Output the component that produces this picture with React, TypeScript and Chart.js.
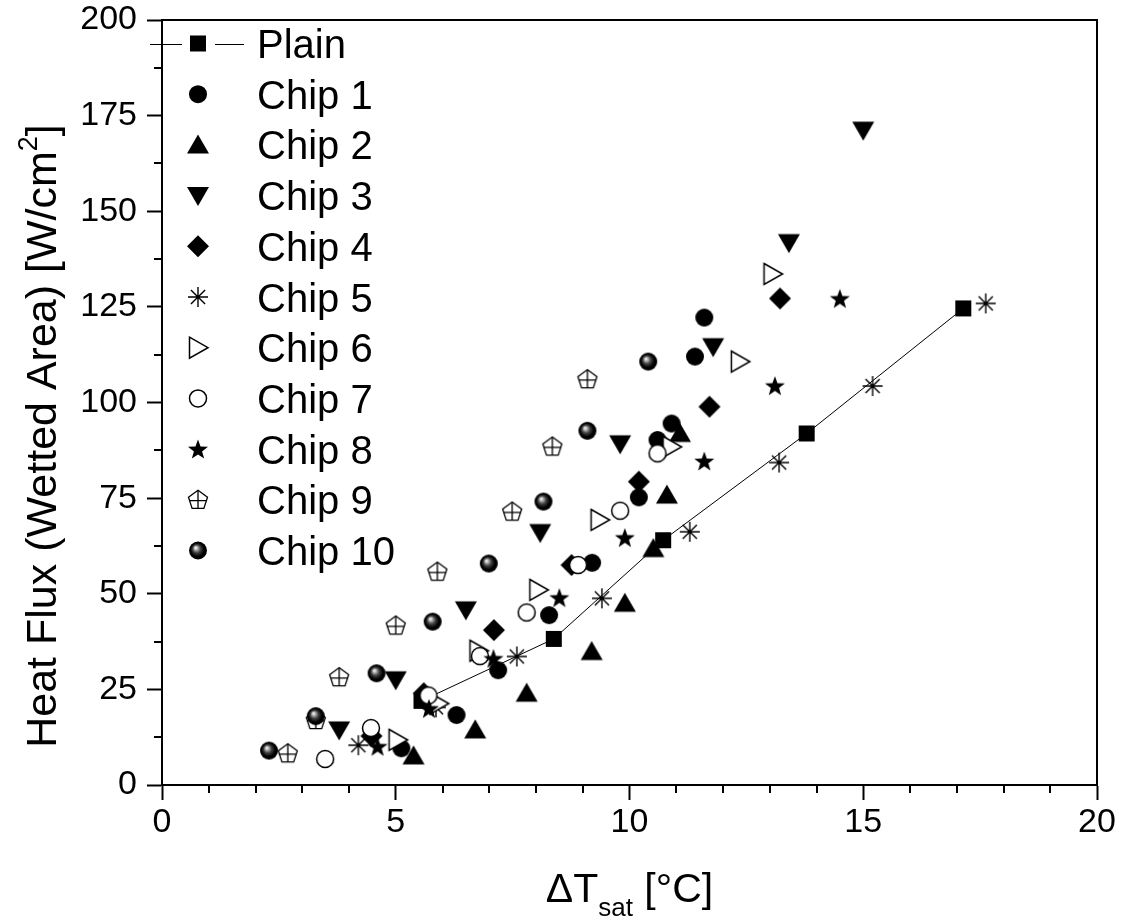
import React, { useEffect, useRef } from "react";
import { Chart, registerables } from "chart.js";

Chart.register(...registerables);

const FONT = '"Liberation Sans", Arial, Helvetica, sans-serif';

// ---- data ----
const seriesNames = ["Plain", "Chip 1", "Chip 2", "Chip 3", "Chip 4", "Chip 5", "Chip 6", "Chip 7", "Chip 8", "Chip 9", "Chip 10"];
const markerKinds = ["square", "circle", "triangle", "triangleDown", "diamond", "asterisk", "triangleRight", "circleOpen", "star", "pentagon", "sphere"];

const plainX = [5.55, 8.38, 10.72, 13.79, 17.14];
const plainY = [22, 38.2, 64, 91.9, 124.6];
const chip1X = [5.12, 6.3, 7.19, 8.28, 9.2, 10.2, 10.6, 10.9, 11.4, 11.6];
const chip1Y = [9.6, 18.3, 30, 44.4, 58.1, 75.2, 90.2, 94.5, 112, 122.2];
const chip2X = [5.38, 6.7, 7.8, 9.19, 9.9, 10.51, 10.8, 11.08];
const chip2Y = [7.6, 14.4, 24, 34.9, 47.5, 61.8, 75.8, 91.9];
const chip3X = [3.79, 5.0, 6.5, 8.09, 9.8, 11.79, 13.41, 15.0];
const chip3Y = [14.4, 27.5, 45.8, 66, 89.2, 114.6, 141.8, 171.2];
const chip4X = [4.48, 5.6, 7.1, 8.76, 10.2, 11.71, 13.22];
const chip4Y = [12.8, 24, 40.5, 57.5, 79.3, 98.9, 127.2];
const chip5X = [4.2, 5.86, 7.59, 9.41, 11.29, 13.2, 15.2, 17.62];
const chip5Y = [10.4, 20.3, 33.6, 48.8, 66.2, 84.3, 104.3, 125.9];
const chip6X = [5.04, 5.92, 6.77, 8.05, 9.36, 10.9, 12.36, 13.06];
const chip6Y = [11.8, 21.3, 35.1, 51, 69.3, 88.4, 110.7, 133.6];
const chip7X = [3.49, 4.47, 5.7, 6.8, 7.8, 8.9, 9.8, 10.6];
const chip7Y = [6.8, 14.9, 23.4, 33.7, 45.1, 57.5, 71.7, 86.7];
const chip8X = [4.61, 5.71, 7.09, 8.5, 9.9, 11.6, 13.11, 14.5];
const chip8Y = [10.1, 20, 33.1, 49, 64.7, 84.7, 104.4, 127.2];
const chip9X = [2.69, 3.29, 3.79, 5.0, 5.89, 7.49, 8.35, 9.1];
const chip9Y = [8.3, 17, 28.2, 41.7, 55.8, 71.5, 88.5, 106.1];
const chip10X = [2.29, 3.29, 4.59, 5.79, 6.99, 8.16, 9.1, 10.4];
const chip10Y = [9.0, 18.0, 29.2, 42.7, 57.9, 74.1, 92.6, 110.7];

const allX = [plainX, chip1X, chip2X, chip3X, chip4X, chip5X, chip6X, chip7X, chip8X, chip9X, chip10X];
const allY = [plainY, chip1Y, chip2Y, chip3Y, chip4Y, chip5Y, chip6Y, chip7Y, chip8Y, chip9Y, chip10Y];

const xMin = 0, xMax = 20, xMajor = 5, xMinor = 1;
const yMin = 0, yMax = 200, yMajor = 25, yMinor = 12.5;
const xTitleMain = "ΔT";
const xTitleSub = "sat";
const xTitleRest = " [°C]";
const yTitleMain = "Heat Flux (Wetted Area) [W/cm";
const yTitleSup = "2";
const yTitleEnd = "]";

// ---- markers ----
function drawMarker(ctx: CanvasRenderingContext2D, kind: string, x: number, y: number) {
  ctx.save();
  ctx.translate(x, y);
  ctx.fillStyle = "#000";
  ctx.strokeStyle = "#000";
  ctx.lineWidth = 1.5;
  ctx.lineJoin = "miter";
  ctx.beginPath();
  switch (kind) {
    case "square":
      ctx.fillRect(-8, -8, 16, 16);
      break;
    case "circle":
      ctx.arc(0, 0, 9, 0, Math.PI * 2);
      ctx.fill();
      break;
    case "triangle":
      ctx.moveTo(0, -10.5);
      ctx.lineTo(11, 8.5);
      ctx.lineTo(-11, 8.5);
      ctx.closePath();
      ctx.fill();
      break;
    case "triangleDown":
      ctx.moveTo(-11, -8.5);
      ctx.lineTo(11, -8.5);
      ctx.lineTo(0, 10.5);
      ctx.closePath();
      ctx.fill();
      break;
    case "diamond":
      ctx.moveTo(0, -11);
      ctx.lineTo(11, 0);
      ctx.lineTo(0, 11);
      ctx.lineTo(-11, 0);
      ctx.closePath();
      ctx.fill();
      break;
    case "asterisk": {
      ctx.lineWidth = 1.4;
      const r = 10;
      for (let k = 0; k < 4; k++) {
        const a = (k * Math.PI) / 4;
        ctx.moveTo(-r * Math.cos(a), -r * Math.sin(a));
        ctx.lineTo(r * Math.cos(a), r * Math.sin(a));
      }
      ctx.stroke();
      break;
    }
    case "triangleRight":
      ctx.moveTo(-8.5, -10.5);
      ctx.lineTo(10, 0);
      ctx.lineTo(-8.5, 10.5);
      ctx.closePath();
      ctx.fillStyle = "#fff";
      ctx.fill();
      ctx.stroke();
      break;
    case "circleOpen":
      ctx.arc(0, 0, 8.5, 0, Math.PI * 2);
      ctx.fillStyle = "#fff";
      ctx.fill();
      ctx.stroke();
      break;
    case "star": {
      const ro = 10.5, ri = 4.3;
      for (let k = 0; k < 10; k++) {
        const a = -Math.PI / 2 + (k * Math.PI) / 5;
        const r = k % 2 === 0 ? ro : ri;
        const px = r * Math.cos(a), py = r * Math.sin(a) + 1;
        if (k === 0) ctx.moveTo(px, py);
        else ctx.lineTo(px, py);
      }
      ctx.closePath();
      ctx.fill();
      break;
    }
    case "pentagon": {
      const r = 10;
      for (let k = 0; k < 5; k++) {
        const a = -Math.PI / 2 + (k * 2 * Math.PI) / 5;
        const px = r * Math.cos(a), py = r * Math.sin(a) + 0.5;
        if (k === 0) ctx.moveTo(px, py);
        else ctx.lineTo(px, py);
      }
      ctx.closePath();
      ctx.fillStyle = "#fff";
      ctx.fill();
      ctx.lineWidth = 1.3;
      ctx.stroke();
      ctx.beginPath();
      ctx.moveTo(0, -r + 0.5);
      ctx.lineTo(0, r * 0.809 + 0.5);
      ctx.moveTo(-r * 0.85, 0.8);
      ctx.lineTo(r * 0.85, 0.8);
      ctx.stroke();
      break;
    }
    case "sphere": {
      const g = ctx.createRadialGradient(-2.5, -3, 0, 0, 0, 9);
      g.addColorStop(0, "#ffffff");
      g.addColorStop(0.12, "#d8d8d8");
      g.addColorStop(0.45, "#404040");
      g.addColorStop(0.75, "#000000");
      g.addColorStop(1, "#000000");
      ctx.arc(0, 0, 9, 0, Math.PI * 2);
      ctx.fillStyle = g;
      ctx.fill();
      break;
    }
  }
  ctx.restore();
}

function makeMarkerCanvas(kind: string): HTMLCanvasElement {
  const c = document.createElement("canvas");
  c.width = 30;
  c.height = 30;
  const ctx = c.getContext("2d")!;
  drawMarker(ctx, kind, 15, 15);
  return c;
}

const decorPlugin = {
  id: "decor",
  afterDraw(chart: any) {
    const ctx: CanvasRenderingContext2D = chart.ctx;
    const { left, right, top, bottom } = chart.chartArea;
    const xs = chart.scales.x;
    const ys = chart.scales.y;
    ctx.save();
    // frame top/right
    ctx.strokeStyle = "#000";
    ctx.lineWidth = 2;
    ctx.beginPath();
    ctx.moveTo(left - 1, top);
    ctx.lineTo(right, top);
    ctx.lineTo(right, bottom + 1);
    ctx.stroke();
    // minor ticks
    ctx.lineWidth = 2;
    ctx.beginPath();
    for (let v = xMin; v <= xMax + 1e-9; v += xMinor) {
      if (Math.abs(v / xMajor - Math.round(v / xMajor)) < 1e-6) continue;
      const px = Math.round(xs.getPixelForValue(v));
      ctx.moveTo(px, bottom);
      ctx.lineTo(px, bottom + 8);
    }
    for (let v = yMin; v <= yMax + 1e-9; v += yMinor) {
      if (Math.abs(v / yMajor - Math.round(v / yMajor)) < 1e-6) continue;
      const py = Math.round(ys.getPixelForValue(v));
      ctx.moveTo(left, py);
      ctx.lineTo(left - 8, py);
    }
    ctx.stroke();

    // legend
    const baseX = 198;
    const textX = 257;
    const base0 = 58;
    const step = 50.7;
    ctx.fillStyle = "#000";
    ctx.font = `40px ${FONT}`;
    ctx.textAlign = "left";
    ctx.textBaseline = "alphabetic";
    seriesNames.forEach((name, i) => {
      const bl = base0 + i * step;
      const cy = bl - 14.5;
      if (i === 0) {
        ctx.strokeStyle = "#000";
        ctx.lineWidth = 1;
        ctx.beginPath();
        ctx.moveTo(150, Math.round(cy) + 0.5);
        ctx.lineTo(182, Math.round(cy) + 0.5);
        ctx.moveTo(215, Math.round(cy) + 0.5);
        ctx.lineTo(244, Math.round(cy) + 0.5);
        ctx.stroke();
      }
      drawMarker(ctx, markerKinds[i], baseX, cy);
      ctx.fillStyle = "#000";
      ctx.fillText(name, textX, bl);
    });

    // x title
    const xf = 41;
    const sf = 26;
    ctx.font = `${xf}px ${FONT}`;
    const w1 = ctx.measureText(xTitleMain).width;
    const w3 = ctx.measureText(xTitleRest).width;
    ctx.font = `${sf}px ${FONT}`;
    const w2 = ctx.measureText(xTitleSub).width;
    const total = w1 + w2 + w3;
    let tx = (left + right) / 2 - total / 2;
    const tb = 902;
    ctx.font = `${xf}px ${FONT}`;
    ctx.fillText(xTitleMain, tx, tb);
    tx += w1;
    ctx.font = `${sf}px ${FONT}`;
    ctx.fillText(xTitleSub, tx, tb + 14);
    tx += w2;
    ctx.font = `${xf}px ${FONT}`;
    ctx.fillText(xTitleRest, tx, tb);

    // y title (rotated)
    const yf = 43;
    const ysf = 27;
    ctx.save();
    ctx.translate(56, 436);
    ctx.rotate(-Math.PI / 2);
    ctx.font = `${yf}px ${FONT}`;
    const a1 = ctx.measureText(yTitleMain).width;
    const a3 = ctx.measureText(yTitleEnd).width;
    ctx.font = `${ysf}px ${FONT}`;
    const a2 = ctx.measureText(yTitleSup).width;
    let ty = -(a1 + a2 + a3) / 2;
    ctx.font = `${yf}px ${FONT}`;
    ctx.fillText(yTitleMain, ty, 0);
    ty += a1;
    ctx.font = `${ysf}px ${FONT}`;
    ctx.fillText(yTitleSup, ty, -19);
    ty += a2;
    ctx.font = `${yf}px ${FONT}`;
    ctx.fillText(yTitleEnd, ty, 0);
    ctx.restore();

    ctx.restore();
  },
};

export default function App() {
  const canvasRef = useRef<HTMLCanvasElement | null>(null);

  useEffect(() => {
    const canvas = canvasRef.current;
    if (!canvas) return;
    const datasets = seriesNames.map((name, i) => {
      const img = makeMarkerCanvas(markerKinds[i]);
      return {
        label: name,
        data: allX[i].map((x, j) => ({ x, y: allY[i][j] })),
        pointStyle: img,
        pointRadius: 10,
        pointHoverRadius: 10,
        showLine: i === 0,
        borderColor: "#000",
        borderWidth: 1,
        backgroundColor: "#000",
        fill: false,
        order: seriesNames.length - i,
      };
    });
    const tickFont = { family: FONT, size: 34 };
    const chart = new Chart(canvas, {
      type: "scatter",
      data: { datasets },
      options: {
        animation: false,
        responsive: false,
        maintainAspectRatio: false,
        events: [],
        layout: { padding: { top: 20, right: 27, left: 0, bottom: 0 }, autoPadding: false },
        plugins: { legend: { display: false }, tooltip: { enabled: false } },
        scales: {
          x: {
            type: "linear",
            min: xMin,
            max: xMax,
            afterFit: (s: any) => {
              s.height = 137;
              s.paddingLeft = 0;
              s.paddingRight = 0;
              s.paddingTop = 0;
              s.paddingBottom = 0;
            },
            ticks: { stepSize: xMajor, color: "#000", font: tickFont, padding: 2, maxRotation: 0 },
            grid: { drawOnChartArea: false, drawTicks: true, tickLength: 15, tickWidth: 2, tickColor: "#000" },
            border: { display: true, color: "#000", width: 2 },
            title: { display: false },
          },
          y: {
            type: "linear",
            min: yMin,
            max: yMax,
            afterFit: (s: any) => {
              s.width = 162;
              s.paddingLeft = 0;
              s.paddingRight = 0;
              s.paddingTop = 0;
              s.paddingBottom = 0;
            },
            ticks: { stepSize: yMajor, color: "#000", font: tickFont, padding: 10 },
            grid: { drawOnChartArea: false, drawTicks: true, tickLength: 15, tickWidth: 2, tickColor: "#000" },
            border: { display: true, color: "#000", width: 2 },
            title: { display: false },
          },
        },
      },
      plugins: [decorPlugin],
    } as any);
    return () => chart.destroy();
  }, []);

  return (
    <div style={{ position: "absolute", left: 0, top: 0, width: 1124, height: 922, background: "#fff" }}>
      <canvas ref={canvasRef} width={1124} height={922} style={{ display: "block", width: 1124, height: 922 }} />
    </div>
  );
}
